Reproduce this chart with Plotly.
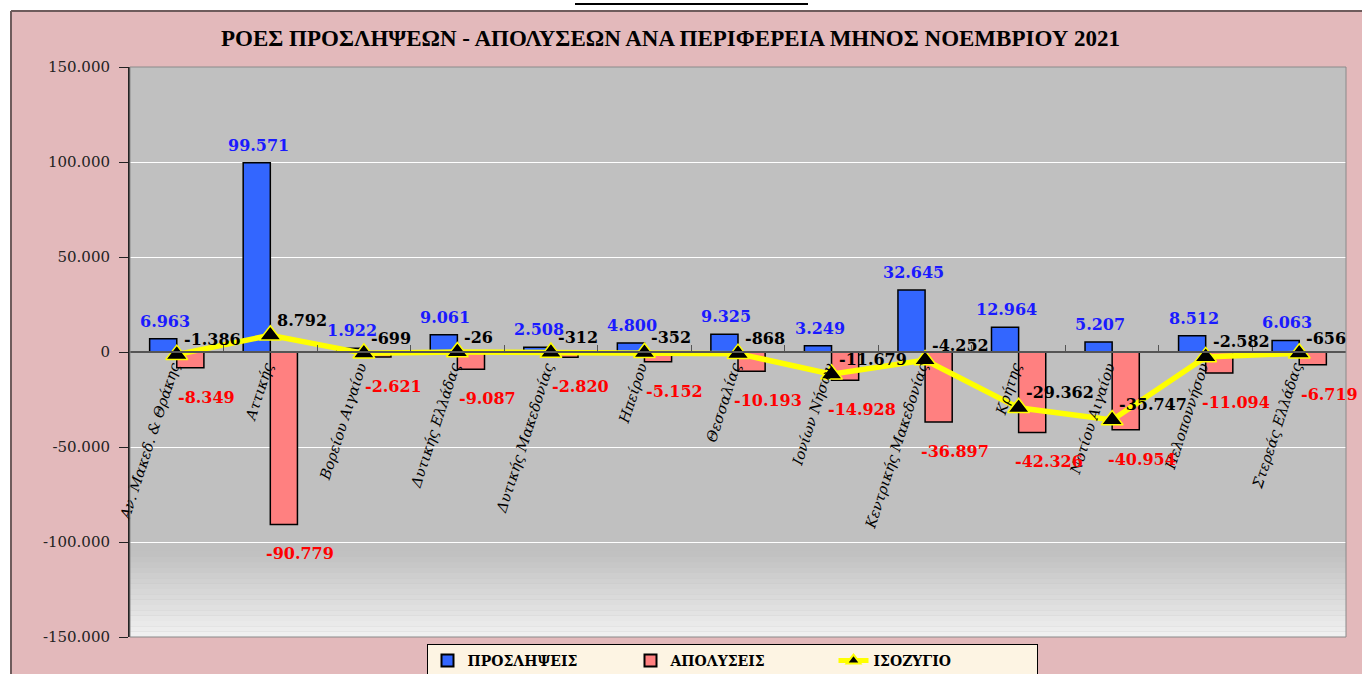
import plotly.graph_objects as go

# regions and monthly flows (November 2021)
regions = [
    "Αν. Μακεδ. & Θράκης", "Αττικής", "Βορείου Αιγαίου", "Δυτικής Ελλάδας",
    "Δυτικής Μακεδονίας", "Ηπείρου", "Θεσσαλίας", "Ιονίων Νήσων",
    "Κεντρικής Μακεδονίας", "Κρήτης", "Νοτίου Αιγαίου", "Πελοποννήσου",
    "Στερεάς Ελλάδας",
]
hires = [6963, 99571, 1922, 9061, 2508, 4800, 9325, 3249, 32645, 12964, 5207, 8512, 6063]
fires = [-8349, -90779, -2621, -9087, -2820, -5152, -10193, -14928, -36897, -42326, -40954, -11094, -6719]
balance = [-1386, 8792, -699, -26, -312, -352, -868, -11679, -4252, -29362, -35747, -2582, -656]

y_tick_vals = [-150000, -100000, -50000, 0, 50000, 100000, 150000]
y_tick_text = ["-150.000", "-100.000", "-50.000", "0", "50.000", "100.000", "150.000"]

W, H = 1362, 674
L, R, T, B = 130, 16, 67, 37
PW, PH = W - L - R, H - T - B


def px_x(px):
    return (px - L) / PW


def px_y(py):
    return (H - B - py) / PH


def fmt(v):
    return f"{v:,}".replace(",", ".")


SERIF = "DejaVu Serif"
PINK = "#e3b9bb"

fig = go.Figure()

fig.add_trace(go.Bar(
    x=regions, y=hires, name="ΠΡΟΣΛΗΨΕΙΣ",
    marker=dict(color="#3366ff", line=dict(color="black", width=1.5)),
))
fig.add_trace(go.Bar(
    x=regions, y=fires, name="ΑΠΟΛΥΣΕΙΣ",
    marker=dict(color="#ff8080", line=dict(color="black", width=1.5)),
))
fig.add_trace(go.Scatter(
    x=regions, y=balance, name="ΙΣΟΖΥΓΙΟ", mode="lines+markers",
    line=dict(color="#ffff00", width=5.5),
    marker=dict(symbol="triangle-up", size=19, color="black",
                line=dict(color="#ffff00", width=1.5)),
))

annotations = []
lab_font = dict(family=SERIF, size=16, weight="bold")
for reg, h, f, b in zip(regions, hires, fires, balance):
    annotations.append(dict(
        x=reg, y=h, text=fmt(h), showarrow=False, xshift=-12, yshift=6,
        yanchor="bottom", font=dict(lab_font, color="#1a1aff"),
    ))
    annotations.append(dict(
        x=reg, y=f, text=fmt(f), showarrow=False, xshift=30, yshift=-18,
        yanchor="top", font=dict(lab_font, color="#ff0000"),
    ))
    annotations.append(dict(
        x=reg, y=b, text=fmt(b), showarrow=False, xshift=5, yshift=15,
        xanchor="left", yanchor="middle", font=dict(lab_font, color="black"),
    ))

annotations.append(dict(
    xref="paper", yref="paper", x=px_x(670), y=px_y(38),
    text="ΡΟΕΣ ΠΡΟΣΛΗΨΕΩΝ - ΑΠΟΛΥΣΕΩΝ ΑΝΑ ΠΕΡΙΦΕΡΕΙΑ ΜΗΝΟΣ ΝΟΕΜΒΡΙΟΥ 2021",
    showarrow=False, xanchor="center", yanchor="middle",
    font=dict(family="Liberation Serif", size=23, weight="bold", color="black"),
))

shapes = []
# white page strips above / left of the chart frame
shapes.append(dict(type="rect", xref="paper", yref="paper", layer="below",
                   x0=px_x(-20), x1=px_x(W + 20), y0=px_y(11), y1=px_y(-20),
                   fillcolor="white", line_width=0))
shapes.append(dict(type="rect", xref="paper", yref="paper", layer="below",
                   x0=px_x(-20), x1=px_x(11), y0=px_y(H + 20), y1=px_y(-20),
                   fillcolor="white", line_width=0))
shapes.append(dict(type="line", xref="paper", yref="paper",
                   x0=px_x(11), x1=px_x(W + 5), y0=px_y(11), y1=px_y(11),
                   line=dict(color="#6e5c5c", width=2)))
shapes.append(dict(type="line", xref="paper", yref="paper",
                   x0=px_x(11), x1=px_x(11), y0=px_y(11), y1=px_y(H + 5),
                   line=dict(color="#6e5c5c", width=2)))
shapes.append(dict(type="line", xref="paper", yref="paper",
                   x0=px_x(575), x1=px_x(808), y0=px_y(4), y1=px_y(4),
                   line=dict(color="black", width=2)))

# light gradient at the bottom of the plot area
n_strips = 16
top_c, bot_c = (192, 192, 192), (242, 242, 242)
for i in range(n_strips):
    t = (i + 0.5) / n_strips
    c = tuple(int(top_c[k] + (bot_c[k] - top_c[k]) * t) for k in range(3))
    y0 = -105000 - 45000 * i / n_strips
    y1 = -105000 - 45000 * (i + 1) / n_strips
    shapes.append(dict(type="rect", xref="x domain", yref="y", layer="below",
                       x0=0, x1=1, y0=y0, y1=y1,
                       fillcolor="rgb(%d,%d,%d)" % c, line_width=0))
shapes.append(dict(type="rect", xref="x domain", yref="y domain",
                   x0=0, x1=1, y0=0, y1=1, line=dict(color="#8a8a8a", width=1)))

fig.update_layout(
    width=W, height=H,
    margin=dict(l=L, r=R, t=T, b=B, autoexpand=False),
    paper_bgcolor=PINK,
    plot_bgcolor="#c0c0c0",
    separators=",.",
    barmode="group", bargap=0.42, bargroupgap=0,
    showlegend=True,
    legend=dict(
        orientation="h", xref="container", yref="container",
        x=732 / W, y=1 - 661 / H, xanchor="center", yanchor="middle",
        bgcolor="#fdf4e3", bordercolor="black", borderwidth=1,
        font=dict(family=SERIF, size=14, weight="bold", color="black"),
        itemsizing="constant", entrywidth=158, tracegroupgap=0,
    ),
    xaxis=dict(
        anchor="free", position=0.5, range=[-0.5, len(regions) - 0.5],
        showline=True, linecolor="#555555", linewidth=1.5,
        ticks="inside", ticklen=6, tickcolor="#555555", tickson="boundaries",
        tickangle=-72, showgrid=False, ticklabelshift=-4, ticklabelstandoff=0,
        tickfont=dict(family=SERIF, size=14.5, style="italic", color="black"),
    ),
    yaxis=dict(
        range=[-150000, 150000], tickvals=y_tick_vals, ticktext=y_tick_text,
        showline=True, linecolor="#222222", linewidth=2,
        ticks="outside", ticklen=9, tickcolor="#222222", ticklabelstandoff=6,
        showgrid=True, gridcolor="white", gridwidth=1, zeroline=False,
        tickfont=dict(family=SERIF, size=15, color="#222222"),
    ),
    annotations=annotations,
    shapes=shapes,
)

fig.write_html(
    "out.html",
    config={"displayModeBar": False},
    post_script="document.body.style.margin='0';document.body.style.overflow='hidden';",
)
